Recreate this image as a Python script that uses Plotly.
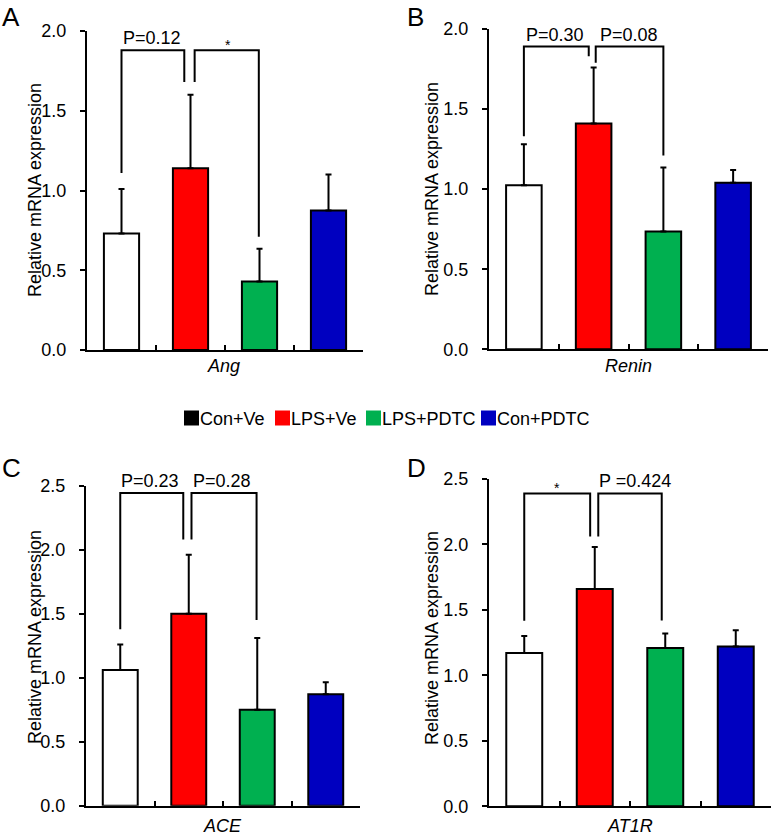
import plotly.graph_objects as go

W, H = 774, 835

# ---------------- data ----------------
groups = ["Con+Ve", "LPS+Ve", "LPS+PDTC", "Con+PDTC"]
bar_colors = ["#ffffff", "#ff0000", "#00b050", "#0000c0"]
legend_colors = ["#000000", "#ff0000", "#00b050", "#0000c0"]
genes = ["Ang", "Renin", "ACE", "AT1R"]
panel_letters = ["A", "B", "C", "D"]

ang_mean = [0.73, 1.14, 0.43, 0.875]
ang_err = [0.28, 0.46, 0.205, 0.225]
renin_mean = [1.025, 1.41, 0.735, 1.04]
renin_err = [0.255, 0.35, 0.40, 0.08]
ace_mean = [1.06, 1.50, 0.75, 0.87]
ace_err = [0.20, 0.46, 0.56, 0.095]
at1r_mean = [1.17, 1.66, 1.21, 1.22]
at1r_err = [0.13, 0.32, 0.11, 0.125]

means = [ang_mean, renin_mean, ace_mean, at1r_mean]
errs = [ang_err, renin_err, ace_err, at1r_err]
y_max = [2.0, 2.0, 2.5, 2.5]

# significance brackets: (x_left, x_right, y_top, y_left_end, y_right_end, label, label_x)
ang_brackets = [(0.0, 0.91, 1.88, 1.11, 1.68, "P=0.12", 0.44),
                (1.06, 1.99, 1.88, 1.68, 0.71, "*", 1.54)]
renin_brackets = [(0.0, 0.93, 1.89, 1.33, 1.83, "P=0.30", 0.45),
                  (1.03, 2.0, 1.89, 1.79, 1.21, "P=0.08", 1.51)]
ace_brackets = [(0.0, 0.92, 2.443, 1.378, 2.08, "P=0.23", 0.44),
                (1.04, 1.99, 2.443, 2.08, 1.45, "P=0.28", 1.48)]
at1r_brackets = [(0.0, 0.935, 2.39, 1.417, 2.06, "*", 0.47),
                 (1.05, 1.95, 2.39, 2.06, 1.42, "P =0.424", 1.57)]
brackets = [ang_brackets, renin_brackets, ace_brackets, at1r_brackets]

# ---------------- layout helpers (pixel -> paper) ----------------
def px(x):
    return x / W

def py(y):
    return 1 - y / H

# plot areas in pixels: (left, right, top, bottom)
areas = [(87, 363, 31, 350), (489, 768, 29, 349.3),
         (86, 360, 485.7, 805.7), (489, 771, 479, 806.3)]
ytitle_pos = [(35, 190), (432, 189), (35, 637), (432, 638)]
xtitle_pos = [(224, 366), (628, 366), (222, 826), (630, 826)]
# panel letters: (x centre, y top of text box)
letter_pos = [(11, 0), (415, 0), (11, 451), (416, 451)]

FONT = "Liberation Sans, Arial, sans-serif"

fig = go.Figure()
layout = dict(width=W, height=H, margin=dict(l=0, r=0, t=0, b=0, pad=0),
              autosize=False,
              paper_bgcolor="white", plot_bgcolor="white",
              showlegend=False, font=dict(family=FONT, size=18, color="black"),
              annotations=[], shapes=[])

cats = list(range(len(groups)))
for i in range(4):
    sfx = "" if i == 0 else str(i + 1)
    fig.add_trace(go.Bar(
        x=cats, y=means[i], width=0.51,
        marker=dict(color=bar_colors, line=dict(color="black", width=2)),
        error_y=dict(type="data", array=errs[i], arrayminus=[0] * 4,
                     symmetric=False, color="black", thickness=2, width=3),
        xaxis="x" + sfx, yaxis="y" + sfx, showlegend=False,
        hovertext=groups,
    ))
    l, r, t, b = areas[i]
    layout["xaxis" + sfx] = dict(
        domain=[px(l), px(r)], range=[-0.5, 3.5], anchor="y" + sfx,
        showline=True, linecolor="black", linewidth=2, automargin=False,
        ticks="inside", ticklen=5, tickwidth=2, tickcolor="black",
        tickvals=[0.5, 1.5, 2.5, 3.5], showticklabels=False,
        showgrid=False, zeroline=False)
    nt = int(round(y_max[i] / 0.5)) + 1
    layout["yaxis" + sfx] = dict(
        domain=[py(b), py(t)], range=[0, y_max[i]], anchor="x" + sfx,
        showline=True, linecolor="black", linewidth=2, automargin=False,
        ticks="outside", ticklen=5, tickwidth=2, tickcolor="black",
        tickvals=[k * 0.5 for k in range(nt)], tickformat=".1f",
        tickfont=dict(size=18), ticklabelstandoff=10,
        showgrid=False, zeroline=False)

    # brackets
    for (x0, x1, yt, yl, yr, lab, lx) in brackets[i]:
        layout["shapes"].append(dict(
            type="path", xref="x" + sfx, yref="y" + sfx,
            path=f"M {x0},{yl} L {x0},{yt} L {x1},{yt} L {x1},{yr}",
            line=dict(color="black", width=2)))
        if lab == "*":
            layout["annotations"].append(dict(
                x=lx, y=yt, xref="x" + sfx, yref="y" + sfx, text=lab,
                showarrow=False, xanchor="center", yanchor="bottom",
                yshift=-5, font=dict(size=14)))
        else:
            layout["annotations"].append(dict(
                x=lx, y=yt, xref="x" + sfx, yref="y" + sfx, text=lab,
                showarrow=False, xanchor="center", yanchor="bottom",
                yshift=0, font=dict(size=18)))

    # axis titles
    tx, ty = ytitle_pos[i]
    layout["annotations"].append(dict(
        x=px(tx), y=py(ty), xref="paper", yref="paper",
        text="Relative mRNA expression", textangle=-90, showarrow=False,
        xanchor="center", yanchor="middle", font=dict(size=18)))
    gx, gy = xtitle_pos[i]
    layout["annotations"].append(dict(
        x=px(gx), y=py(gy), xref="paper", yref="paper",
        text="<i>" + genes[i] + "</i>", showarrow=False,
        xanchor="center", yanchor="middle", font=dict(size=18)))
    lx, ly = letter_pos[i]
    layout["annotations"].append(dict(
        x=px(lx), y=py(ly), xref="paper", yref="paper",
        text=panel_letters[i], showarrow=False,
        xanchor="center", yanchor="top", font=dict(size=26)))

# legend (squares + labels)
sq_x = [184, 275, 366, 481]
txt_x = [200, 291, 382, 497]
for k in range(len(groups)):
    layout["shapes"].append(dict(
        type="rect", xref="paper", yref="paper",
        x0=px(sq_x[k]), x1=px(sq_x[k] + 15), y0=py(425.5), y1=py(410.5),
        fillcolor=legend_colors[k], line=dict(width=0)))
    layout["annotations"].append(dict(
        x=px(txt_x[k]), y=py(418.5), xref="paper", yref="paper",
        text=groups[k], showarrow=False, xanchor="left", yanchor="middle",
        xshift=-2, font=dict(size=18)))

fig.update_layout(**layout)
fig.write_html(
    "out.html",
    config={"displayModeBar": False},
    post_script="document.body.style.margin='0px';document.body.style.overflow='hidden';",
)
